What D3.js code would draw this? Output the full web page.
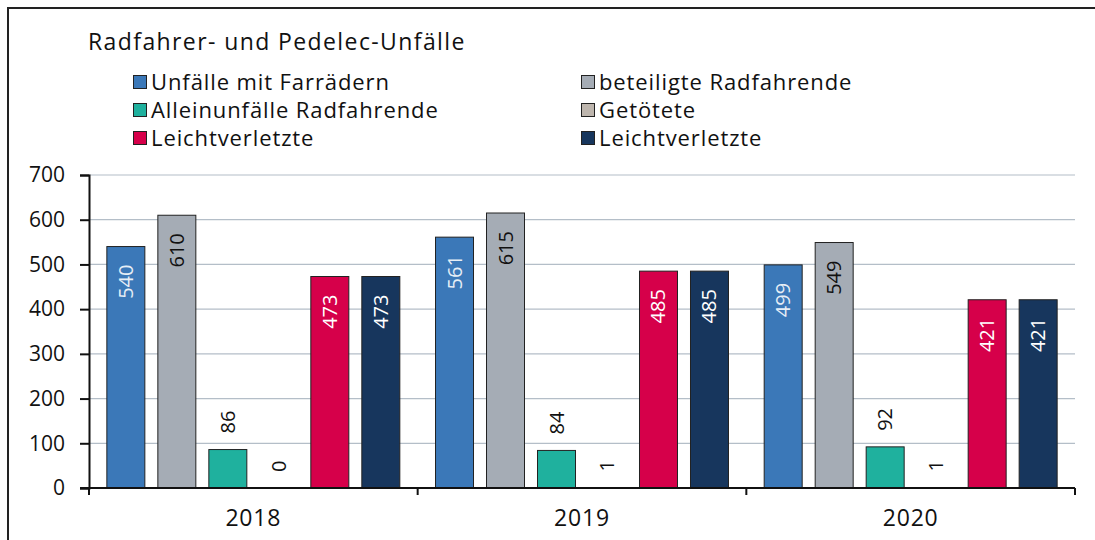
<!DOCTYPE html>
<html>
<head>
<meta charset="utf-8">
<script src="https://cdn.jsdelivr.net/npm/d3@7"></script>
<style>
  body { margin: 0; background: #fff; }
  svg { display: block; font-family: "Open Sans", sans-serif; }
</style>
</head>
<body>
<script>
var width = 1095,
    height = 540;

var title = "Radfahrer- und Pedelec-Unfälle";
var years = ["2018", "2019", "2020"];
var seriesNames = ["Unfälle mit Farrädern", "beteiligte Radfahrende", "Alleinunfälle Radfahrende",
                   "Getötete", "Leichtverletzte", "Leichtverletzte"];
var unfaelle = [540, 561, 499];
var beteiligte = [610, 615, 549];
var alleinunfaelle = [86, 84, 92];
var getoetete = [0, 1, 1];
var leichtRot = [473, 485, 421];
var leichtBlau = [473, 485, 421];
var yTicks = [0, 100, 200, 300, 400, 500, 600, 700];

var colors = ["#3B78B8", "#A5ACB5", "#1FB19E", "#BEB6AE", "#D6004A", "#17365D"];
var labelColors = ["#E6EEF6", "#111", "#111", "#111", "#fff", "#fff"];
var allSeries = [unfaelle, beteiligte, alleinunfaelle, getoetete, leichtRot, leichtBlau];

var plotLeft = 89, plotRight = 1075, plotTop = 175, plotBottom = 488;

var svg = d3.select("body").append("svg")
    .attr("width", width)
    .attr("height", height);

// frame
svg.append("rect")
    .attr("x", 8).attr("y", 8)
    .attr("width", 1100).attr("height", 560)
    .attr("fill", "none")
    .attr("stroke", "#222")
    .attr("stroke-width", 2);

svg.append("text")
    .attr("x", 88).attr("y", 50)
    .attr("font-size", 23)
    .attr("letter-spacing", 1.4)
    .attr("fill", "#111")
    .text(title);

// legend
var legendPos = [[133, 82], [581, 82], [133, 110], [581, 110], [133, 138], [581, 138]];
var legend = svg.selectAll(".legend")
    .data(seriesNames)
    .enter().append("g")
    .attr("transform", function (d, i) { return "translate(" + legendPos[i][0] + "," + legendPos[i][1] + ")"; });
legend.append("rect")
    .attr("x", 0.5).attr("y", -6.5)
    .attr("width", 13).attr("height", 13)
    .attr("fill", function (d, i) { return colors[i]; })
    .attr("stroke", "#222");
legend.append("text")
    .attr("x", 18).attr("y", 0)
    .attr("dy", "0.35em")
    .attr("font-size", 22)
    .attr("letter-spacing", 0.9)
    .attr("fill", "#111")
    .text(function (d) { return d; });

var y = d3.scaleLinear().domain([0, 700]).range([plotBottom, plotTop]);
var x0 = d3.scaleBand().domain(years).range([plotLeft, plotRight]).padding(0);
var x1 = d3.scaleBand().domain(d3.range(6)).range([0, x0.bandwidth()])
    .paddingInner(0.255).paddingOuter(0.35);

// grid
svg.selectAll(".grid")
    .data(yTicks.slice(1))
    .enter().append("line")
    .attr("x1", plotLeft).attr("x2", plotRight)
    .attr("y1", function (d) { return y(d); })
    .attr("y2", function (d) { return y(d); })
    .attr("stroke", "#B4BEC8")
    .attr("stroke-width", 1.2);

// y axis
var yAxis = svg.append("g")
    .attr("transform", "translate(" + plotLeft + ",0)")
    .call(d3.axisLeft(y).tickValues(yTicks).tickSize(9).tickPadding(15));
yAxis.select(".domain").attr("stroke", "#111").attr("stroke-width", 2);
yAxis.selectAll(".tick line").attr("stroke", "#111").attr("stroke-width", 2);
yAxis.selectAll("text").attr("font-size", 21).attr("fill", "#111").attr("font-family", "'Open Sans', sans-serif");

// bars
var groups = svg.selectAll(".year")
    .data(years)
    .enter().append("g")
    .attr("transform", function (d) { return "translate(" + x0(d) + ",0)"; });

groups.selectAll("rect")
    .data(function (d, yi) { return allSeries.map(function (s, si) { return { si: si, v: s[yi] }; }); })
    .enter().append("rect")
    .attr("x", function (d) { return x1(d.si); })
    .attr("y", function (d) { return y(d.v); })
    .attr("width", x1.bandwidth())
    .attr("height", function (d) { return y(0) - y(d.v); })
    .attr("fill", function (d) { return colors[d.si]; })
    .attr("stroke", "#222")
    .attr("stroke-width", 1);

groups.selectAll(".lbl")
    .data(function (d, yi) { return allSeries.map(function (s, si) { return { si: si, v: s[yi] }; }); })
    .enter().append("text")
    .attr("transform", function (d) {
        var cx = x1(d.si) + x1.bandwidth() / 2;
        var inside = d.v > 200;
        var yy = inside ? y(d.v) + 18 : y(d.v) - 16;
        return "translate(" + cx + "," + yy + ") rotate(-90)";
    })
    .attr("text-anchor", function (d) { return d.v > 200 ? "end" : "start"; })
    .attr("dy", "0.35em")
    .attr("font-size", 20)
    .attr("fill", function (d) { return d.v > 200 ? labelColors[d.si] : "#111"; })
    .text(function (d) { return d.v; });

// x axis
var xAxis = svg.append("g")
    .attr("transform", "translate(0," + plotBottom + ")");
xAxis.append("line")
    .attr("x1", plotLeft - 9).attr("x2", plotRight)
    .attr("y1", 0).attr("y2", 0)
    .attr("stroke", "#111").attr("stroke-width", 2);
xAxis.selectAll(".xt")
    .data([plotLeft].concat(years.map(function (d) { return x0(d) + x0.bandwidth(); })))
    .enter().append("line")
    .attr("x1", function (d) { return d; }).attr("x2", function (d) { return d; })
    .attr("y1", 0).attr("y2", 7)
    .attr("stroke", "#111").attr("stroke-width", 2);
xAxis.selectAll(".xl")
    .data(years)
    .enter().append("text")
    .attr("x", function (d) { return x0(d) + x0.bandwidth() / 2; })
    .attr("y", 38)
    .attr("text-anchor", "middle")
    .attr("font-size", 23)
    .attr("letter-spacing", 0.8)
    .attr("fill", "#111")
    .text(function (d) { return d; });
</script>
</body>
</html>
